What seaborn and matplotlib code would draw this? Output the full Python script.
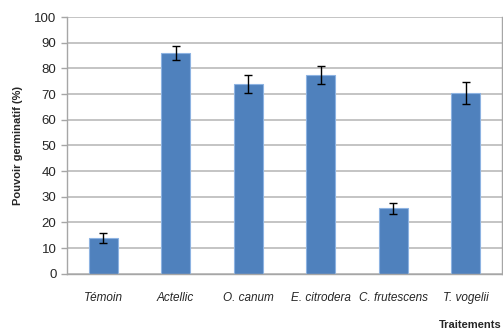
import matplotlib
matplotlib.use("Agg")
import matplotlib.pyplot as plt
import seaborn as sns
import numpy as np

traitements = ["Témoin", "Actellic", "O. canum", "E. citrodera", "C. frutescens", "T. vogelii"]
germination = [14, 86, 74, 77.5, 25.5, 70.5]
erreur = [1.8, 2.6, 3.6, 3.5, 2.2, 4.2]

sns.set_style("white")
plt.rcParams["font.family"] = ["Liberation Sans", "DejaVu Sans"]

fig = plt.figure(figsize=(5.03, 3.36), dpi=100)
ax = fig.add_axes([0.133, 0.185, 0.865, 0.764])

sns.barplot(x=traitements, y=germination, color="#4F81BD", saturation=1, width=0.4,
            edgecolor="#8DB3E2", linewidth=0.8, ax=ax, zorder=2)

centers = [p.get_x() + p.get_width() / 2 for p in ax.patches]
ax.errorbar(centers, germination, yerr=erreur, fmt="none", ecolor="black",
            elinewidth=1.0, capsize=3, capthick=1.0, zorder=3)

ax.set_ylim(0, 100)
ax.set_xlim(-0.5, len(traitements) - 0.5)
ax.set_yticks(np.arange(0, 101, 10))
ax.yaxis.grid(True, color="#BFBFBF", linewidth=1.3, zorder=0)
ax.set_axisbelow(True)

for s in ["left", "bottom", "right"]:
    ax.spines[s].set_color("#A6A6A6")
    ax.spines[s].set_linewidth(1.0)
ax.spines["top"].set_visible(False)

# category separators below the axis
ax.set_xticks(np.arange(-0.5, len(traitements), 1.0), minor=True)
ax.tick_params(axis="x", which="minor", length=4, color="#A6A6A6", width=1.0, direction="out")
ax.tick_params(axis="x", which="major", length=0, pad=13, labelsize=8.5)
ax.tick_params(axis="y", length=4, color="#A6A6A6", width=1.0, labelsize=9.5, direction="out", left=True)
for lbl in ax.get_xticklabels():
    lbl.set_fontstyle("italic")
    lbl.set_color("#262626")
for lbl in ax.get_yticklabels():
    lbl.set_color("#262626")

ax.set_ylabel("Pouvoir germinatif (%)", fontsize=8, fontweight="bold", labelpad=8)
ax.set_xlabel("")
fig.text(0.935, 0.032, "Traitements", fontsize=8, fontweight="bold", ha="center", va="center")

fig.savefig("out.png", dpi=100)
